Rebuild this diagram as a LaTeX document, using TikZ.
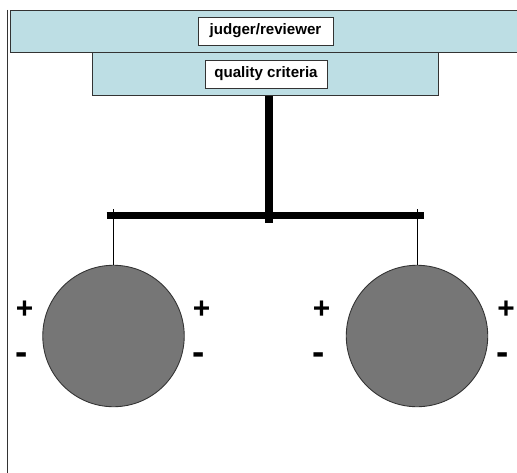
\documentclass[tikz,border=0pt]{standalone}
\usepackage{fontspec}
\setmainfont{Liberation Sans}
\usepackage{tikz}
\usetikzlibrary{calc,positioning}
\definecolor{bandblue}{HTML}{BDDEE4}
\definecolor{pangray}{HTML}{767676}
\definecolor{edgegray}{HTML}{333333}
\tikzset{
  band/.style={draw=edgegray, fill=bandblue, line width=0.6pt, inner sep=0pt, anchor=north west},
  tag/.style={draw=edgegray, fill=white, line width=0.5pt, inner sep=0pt, minimum height=0.56cm, font=\fontsize{8.6}{10}\selectfont\bfseries},
  pan/.style={circle, draw=edgegray, fill=pangray, line width=0.5pt, minimum size=2.83cm, inner sep=0pt},
  heavy/.style={line width=4.4pt, line cap=butt},
  sign/.style={inner sep=0pt, font=\fontsize{17}{17}\selectfont\bfseries},
  minussign/.style={inner sep=0pt, font=\fontsize{21}{21}\selectfont\bfseries}
}
\begin{document}
\begin{tikzpicture}[x=0.02cm, y=-0.02cm]
    \useasboundingbox (0,0) rectangle (517,473);
    \clip (0,0) rectangle (517,473);
    \fill[white] (0,0) rectangle (517,473);

    % frame line on the left
    \draw[edgegray, line width=0.7pt] (7.7,10) -- (7.7,473);

    % the two bands with their labels
    \node[band, minimum width=10.41cm, minimum height=0.846cm] (judgerband) at (9.5,10) {};
    \node[band, minimum width=6.914cm, minimum height=0.854cm] (criteriaband) at (92.3,52.3) {};
    \node[tag, minimum width=2.7cm] (judger) at (265.5,31) {judger/reviewer};
    \node[tag, minimum width=2.44cm] (criteria) at (266,74) {quality criteria};

    % the beam
    \coordinate (pivot) at (269,215.5);
    \coordinate (beamL) at (106.7,215.5);
    \coordinate (beamR) at (424,215.5);
    \draw[heavy] (beamL) -- (beamR);
    \draw[line width=4.7pt, line cap=butt] (criteriaband.south -| pivot) -- ($(pivot)+(0,7.2)$);

    % the two pans
    \node[pan] (lpan) at (113.5,336) {};
    \node[pan] (rpan) at (417,336) {};
    \draw[line width=0.5pt] (lpan.north) -- ++(0,-56);
    \draw[line width=0.5pt] (rpan.north) -- ++(0,-56);

    % signs beside the pans
    \node[sign] (lpanplusL) at (24.5,310) {+};
    \node[minussign] (lpanminusL) at (22,359) {-};
    \node[sign] (lpanplusR) at (201.5,310) {+};
    \node[minussign] (lpanminusR) at (198.5,359) {-};
    \node[sign] (rpanplusL) at (321.5,310) {+};
    \node[minussign] (rpanminusL) at (318.5,359) {-};
    \node[sign] (rpanplusR) at (506,310) {+};
    \node[minussign] (rpanminusR) at (503,359) {-};
\end{tikzpicture}
\end{document}
